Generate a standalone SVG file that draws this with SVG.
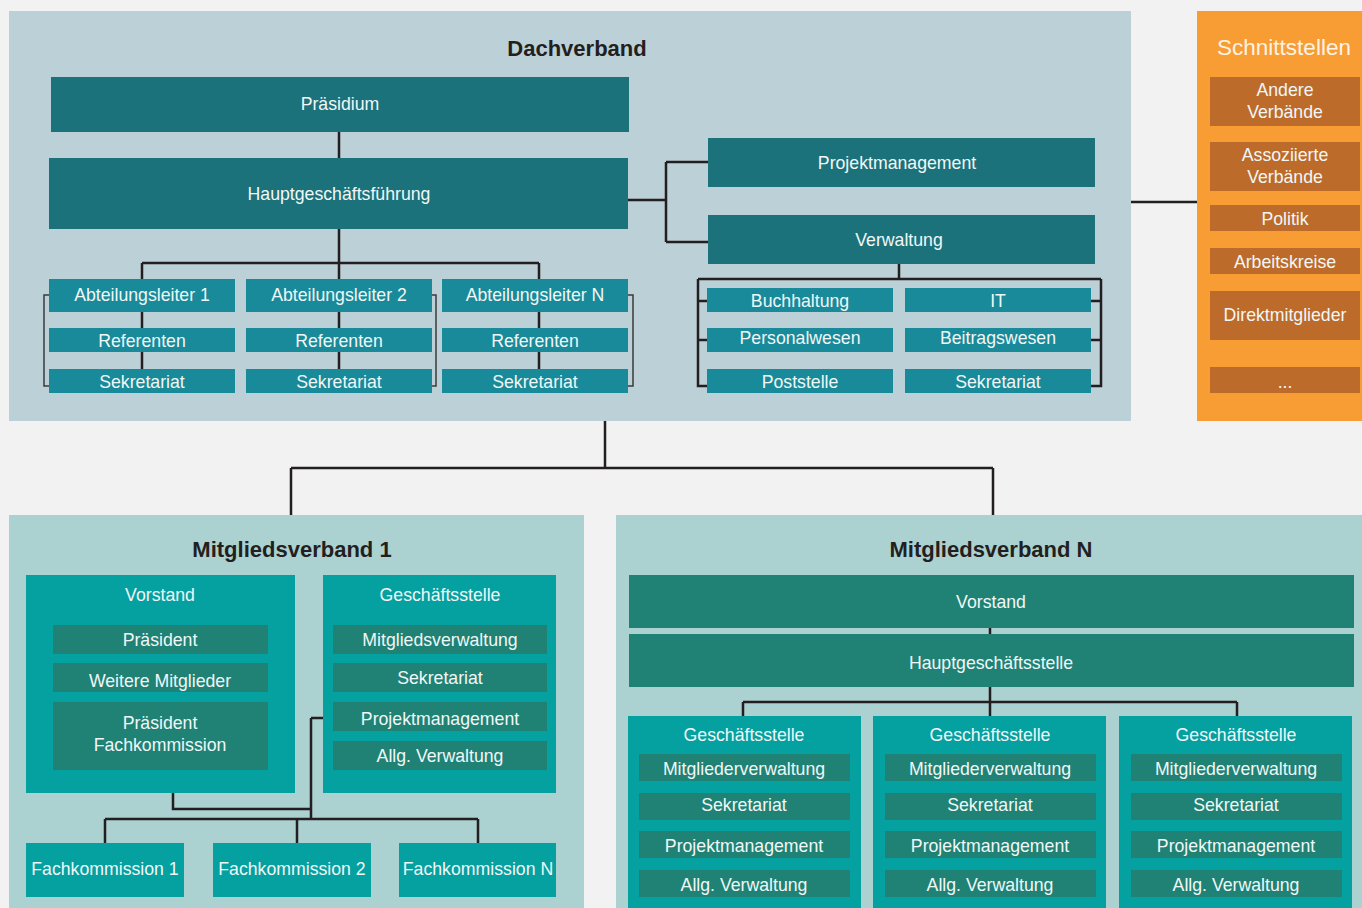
<svg xmlns="http://www.w3.org/2000/svg" width="1362" height="908" viewBox="0 0 1362 908">
<style>
text{font-family:"Liberation Sans",Arial,sans-serif;text-anchor:middle}
.t{fill:#f1f7f7;font-size:17.7px}
.h{fill:#231f20;font-size:22px;font-weight:bold}
.st{fill:#fdf3e6;font-size:22.5px}
.dk{fill:#1c727a}
.lt{fill:#188a99}
.or{fill:#bd6b2b}
.tq{fill:#05a0a0}
.gn{fill:#1f8275}
.ln{fill:none;stroke:#231f20;stroke-width:2.5}
.br{fill:none;stroke:#3a3a3a;stroke-width:1.5}
</style>
<rect width="1362" height="908" fill="#f2f2f2"/>
<g id="panels">
<rect id="dachverband" x="9" y="11" width="1122" height="410" fill="#bcd0d7"/>
<rect id="schnittstellen" x="1197" y="11" width="165" height="410" fill="#f89d33"/>
<rect id="mv1" x="9" y="515" width="575" height="393" fill="#acd1d1"/>
<rect id="mvn" x="616" y="515" width="746" height="393" fill="#acd1d1"/>
<text class="h" x="577" y="56">Dachverband</text>
<text class="st" x="1284" y="55">Schnittstellen</text>
<text class="h" x="292" y="557">Mitgliedsverband 1</text>
<text class="h" x="991" y="557">Mitgliedsverband N</text>
</g>
<g id="connectors">
<path class="ln" d="M339,132 V263 M142,263 H539 M142,263 V369 M339,263 V369 M539,263 V369"/>
<path class="br" d="M49,295 H44 V386 H49 M432,295 H436 V386 H432 M628,295 H633 V386 H628"/>
<path class="ln" d="M628,200 H666 M666,162 V242 M666,162 H708 M666,242 H708"/>
<path class="ln" d="M899,263 V279 M698,279 H1101 M698,279 V386 H707 M1101,279 V386 H1091 M698,301 H707 M698,340 H707 M1101,301 H1091 M1101,340 H1091"/>
<path class="ln" d="M1131,202 H1197"/>
<path class="ln" d="M605,421 V468 M291,468 H993 M291,468 V515 M993,468 V515"/>
<path class="ln" d="M173,793 V809 H311 M311,718 H323 M311,718 V819 M105,819 H478 M105,819 V843 M297,819 V843 M478,819 V843"/>
<path class="ln" d="M990,628 V634 M990,687 V702 M743,702 H1237 M743,702 V716 M990,702 V716 M1237,702 V716"/>
</g>
<g id="n-praesidium"><rect class="dk" x="51" y="77" width="578" height="55"/><text class="t" x="340" y="110">Präsidium</text></g>
<g id="n-hgf"><rect class="dk" x="49" y="158" width="579" height="71"/><text class="t" x="339" y="200">Hauptgeschäftsführung</text></g>
<g id="n-projekt"><rect class="dk" x="708" y="138" width="387" height="49"/><text class="t" x="897" y="169">Projektmanagement</text></g>
<g id="n-verwaltung"><rect class="dk" x="708" y="215" width="387" height="49"/><text class="t" x="899" y="246">Verwaltung</text></g>
<g id="n-abt1"><rect class="lt" x="49" y="279" width="186" height="33"/><text class="t" x="142" y="301">Abteilungsleiter 1</text>
<rect class="lt" x="49" y="328" width="186" height="24"/><text class="t" x="142" y="347">Referenten</text>
<rect class="lt" x="49" y="369" width="186" height="24"/><text class="t" x="142" y="388">Sekretariat</text></g>
<g id="n-abt2"><rect class="lt" x="246" y="279" width="186" height="33"/><text class="t" x="339" y="301">Abteilungsleiter 2</text>
<rect class="lt" x="246" y="328" width="186" height="24"/><text class="t" x="339" y="347">Referenten</text>
<rect class="lt" x="246" y="369" width="186" height="24"/><text class="t" x="339" y="388">Sekretariat</text></g>
<g id="n-abtn"><rect class="lt" x="442" y="279" width="186" height="33"/><text class="t" x="535" y="301">Abteilungsleiter N</text>
<rect class="lt" x="442" y="328" width="186" height="24"/><text class="t" x="535" y="347">Referenten</text>
<rect class="lt" x="442" y="369" width="186" height="24"/><text class="t" x="535" y="388">Sekretariat</text></g>
<g id="n-verw-subs">
<rect class="lt" x="707" y="288" width="186" height="24"/><text class="t" x="800" y="307">Buchhaltung</text>
<rect class="lt" x="905" y="288" width="186" height="24"/><text class="t" x="998" y="307">IT</text>
<rect class="lt" x="707" y="328" width="186" height="24"/><text class="t" x="800" y="344">Personalwesen</text>
<rect class="lt" x="905" y="328" width="186" height="24"/><text class="t" x="998" y="344">Beitragswesen</text>
<rect class="lt" x="707" y="369" width="186" height="24"/><text class="t" x="800" y="388">Poststelle</text>
<rect class="lt" x="905" y="369" width="186" height="24"/><text class="t" x="998" y="388">Sekretariat</text>
</g>
<g id="n-schnitt">
<rect class="or" x="1210" y="77" width="150" height="49"/><text class="t" x="1285" y="96">Andere</text><text class="t" x="1285" y="118">Verbände</text>
<rect class="or" x="1210" y="142" width="150" height="49"/><text class="t" x="1285" y="161">Assoziierte</text><text class="t" x="1285" y="183">Verbände</text>
<rect class="or" x="1210" y="205" width="150" height="26"/><text class="t" x="1285" y="225">Politik</text>
<rect class="or" x="1210" y="248" width="150" height="26"/><text class="t" x="1285" y="268">Arbeitskreise</text>
<rect class="or" x="1210" y="291" width="150" height="49"/><text class="t" x="1285" y="321">Direktmitglieder</text>
<rect class="or" x="1210" y="367" width="150" height="26"/><text class="t" x="1285" y="388">...</text>
</g>
<g id="n-mv1-vorstand"><rect class="tq" x="26" y="575" width="269" height="218"/><text class="t" x="160" y="601">Vorstand</text>
<rect class="gn" x="53" y="625" width="215" height="29"/><text class="t" x="160" y="646">Präsident</text>
<rect class="gn" x="53" y="663" width="215" height="29"/><text class="t" x="160" y="687">Weitere Mitglieder</text>
<rect class="gn" x="53" y="702" width="215" height="68"/><text class="t" x="160" y="729">Präsident</text><text class="t" x="160" y="751">Fachkommission</text></g>
<g id="n-mv1-gs"><rect class="tq" x="323" y="575" width="233" height="218"/><text class="t" x="440" y="601">Geschäftsstelle</text>
<rect class="gn" x="333" y="625" width="214" height="29"/><text class="t" x="440" y="646">Mitgliedsverwaltung</text>
<rect class="gn" x="333" y="663" width="214" height="29"/><text class="t" x="440" y="684">Sekretariat</text>
<rect class="gn" x="333" y="702" width="214" height="29"/><text class="t" x="440" y="725">Projektmanagement</text>
<rect class="gn" x="333" y="741" width="214" height="29"/><text class="t" x="440" y="762">Allg. Verwaltung</text></g>
<g id="n-fk1"><rect class="tq" x="26" y="843" width="158" height="54"/><text class="t" x="105" y="875">Fachkommission 1</text></g>
<g id="n-fk2"><rect class="tq" x="213" y="843" width="158" height="54"/><text class="t" x="292" y="875">Fachkommission 2</text></g>
<g id="n-fkn"><rect class="tq" x="399" y="843" width="157" height="54"/><text class="t" x="478" y="875">Fachkommission N</text></g>
<g id="n-mvn-vorstand"><rect class="gn" x="629" y="575" width="725" height="53"/><text class="t" x="991" y="608">Vorstand</text></g>
<g id="n-mvn-hgs"><rect class="gn" x="629" y="634" width="725" height="53"/><text class="t" x="991" y="669">Hauptgeschäftsstelle</text></g>
<g id="n-mvn-gs1"><rect class="tq" x="628" y="716" width="233" height="192"/><text class="t" x="744" y="741">Geschäftsstelle</text>
<rect class="gn" x="639" y="754" width="211" height="27"/><text class="t" x="744" y="775">Mitgliederverwaltung</text>
<rect class="gn" x="639" y="793" width="211" height="27"/><text class="t" x="744" y="811">Sekretariat</text>
<rect class="gn" x="639" y="831" width="211" height="27"/><text class="t" x="744" y="852">Projektmanagement</text>
<rect class="gn" x="639" y="870" width="211" height="27"/><text class="t" x="744" y="891">Allg. Verwaltung</text></g>
<g id="n-mvn-gs2"><rect class="tq" x="873" y="716" width="233" height="192"/><text class="t" x="990" y="741">Geschäftsstelle</text>
<rect class="gn" x="885" y="754" width="211" height="27"/><text class="t" x="990" y="775">Mitgliederverwaltung</text>
<rect class="gn" x="885" y="793" width="211" height="27"/><text class="t" x="990" y="811">Sekretariat</text>
<rect class="gn" x="885" y="831" width="211" height="27"/><text class="t" x="990" y="852">Projektmanagement</text>
<rect class="gn" x="885" y="870" width="211" height="27"/><text class="t" x="990" y="891">Allg. Verwaltung</text></g>
<g id="n-mvn-gs3"><rect class="tq" x="1119" y="716" width="233" height="192"/><text class="t" x="1236" y="741">Geschäftsstelle</text>
<rect class="gn" x="1131" y="754" width="211" height="27"/><text class="t" x="1236" y="775">Mitgliederverwaltung</text>
<rect class="gn" x="1131" y="793" width="211" height="27"/><text class="t" x="1236" y="811">Sekretariat</text>
<rect class="gn" x="1131" y="831" width="211" height="27"/><text class="t" x="1236" y="852">Projektmanagement</text>
<rect class="gn" x="1131" y="870" width="211" height="27"/><text class="t" x="1236" y="891">Allg. Verwaltung</text></g>
</svg>
